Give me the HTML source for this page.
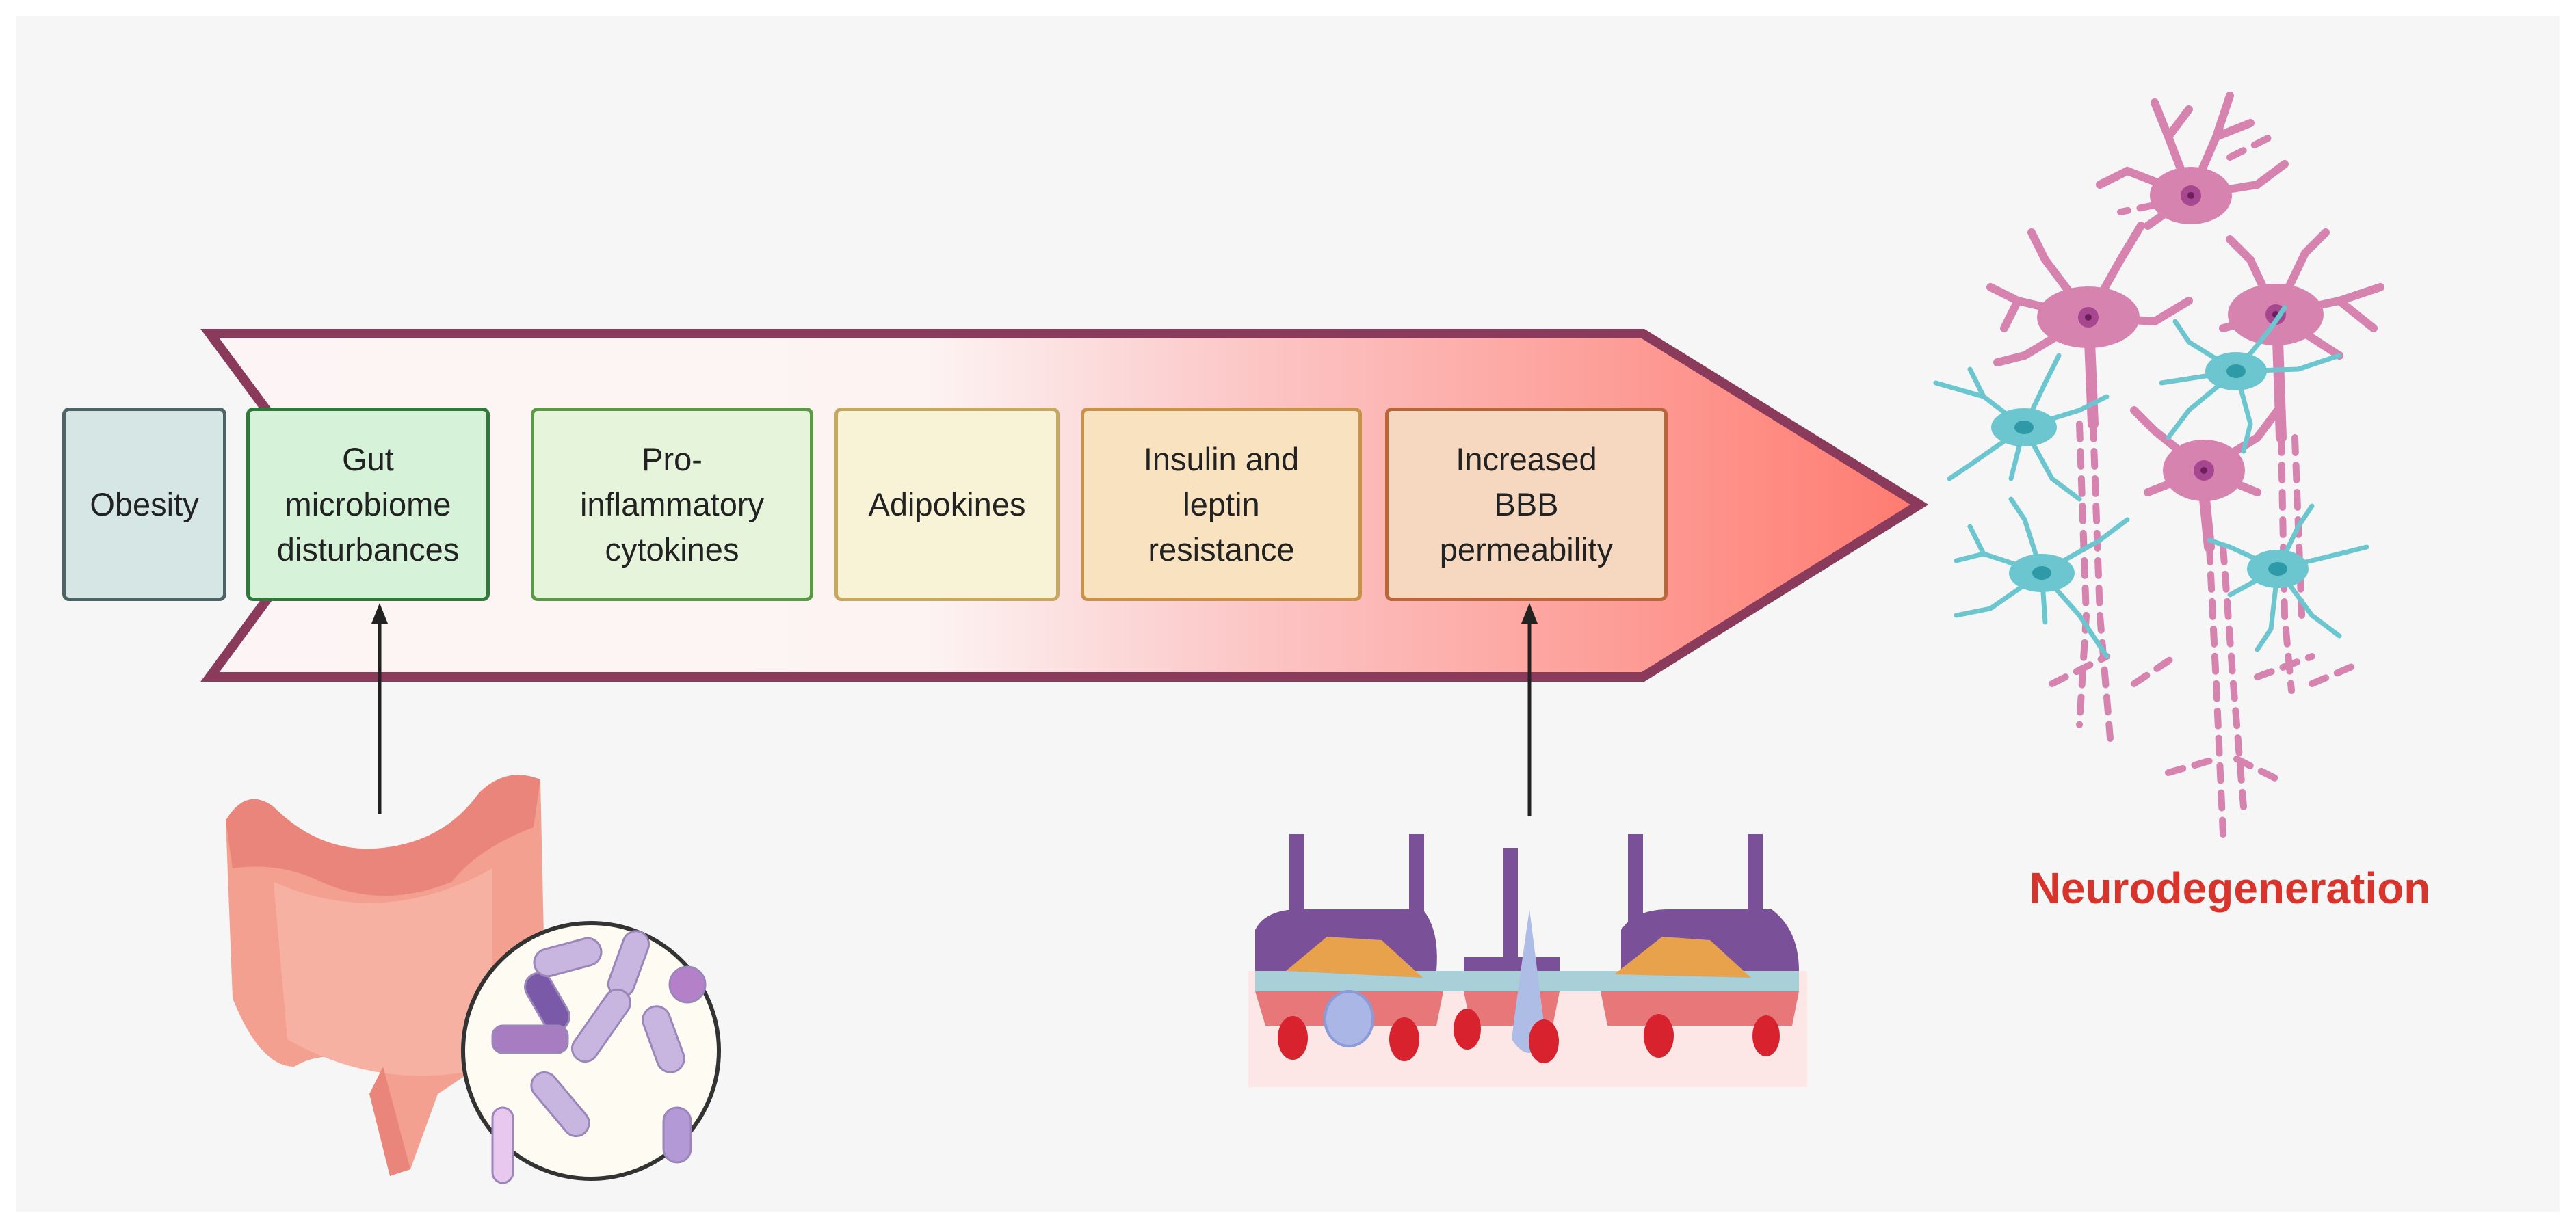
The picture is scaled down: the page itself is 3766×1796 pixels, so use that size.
<!DOCTYPE html>
<html><head><meta charset="utf-8"><style>
html,body{margin:0;padding:0;background:#fff;}
body{width:3766px;height:1796px;position:relative;overflow:hidden;font-family:"Liberation Sans",sans-serif;}
.box{position:absolute;top:596px;height:283px;border:5px solid;border-radius:10px;box-sizing:border-box;display:flex;align-items:center;justify-content:center;text-align:center;font-size:47px;line-height:66px;color:#222;}
</style></head><body>
<div style="position:absolute;left:24px;top:24px;width:3718px;height:1748px;background:#f6f6f6;"></div>
<svg width="3766" height="1796" style="position:absolute;left:0;top:0">
<defs>
<linearGradient id="g" x1="307" y1="0" x2="2806" y2="0" gradientUnits="userSpaceOnUse">
<stop offset="0" stop-color="#fdf5f5"/><stop offset="0.42" stop-color="#fdf3f3"/><stop offset="0.6" stop-color="#fcc8c8"/><stop offset="1" stop-color="#fe7b70"/>
</linearGradient>
</defs>
<polygon points="307,488 2402,488 2806,738 2402,990 307,990 492,738" fill="url(#g)" stroke="#8a3b5c" stroke-width="14" stroke-linejoin="miter"/>
<line x1="555" y1="1190" x2="555" y2="900" stroke="#222" stroke-width="5"/>
<polygon points="555,882 543,912 567,912" fill="#222"/>
<line x1="2236" y1="1194" x2="2236" y2="900" stroke="#222" stroke-width="5"/>
<polygon points="2236,882 2224,912 2248,912" fill="#222"/>
<!-- gut -->
<g>
<path d="M330,1200 Q360,1150 400,1180 Q470,1250 560,1240 Q650,1230 700,1160 Q740,1120 790,1140 L800,1600 Q760,1640 700,1560 L640,1600 L600,1710 Q580,1720 570,1680 L560,1560 Q480,1530 430,1560 Q380,1560 340,1460 Z" fill="#f3a090"/>
<path d="M400,1290 Q560,1360 720,1270 L720,1560 Q560,1600 420,1520 Z" fill="#f7b1a2"/>
<path d="M330,1200 Q360,1150 400,1180 Q470,1250 560,1240 Q650,1230 700,1160 Q740,1120 790,1140 L780,1210 Q700,1240 660,1290 Q560,1330 470,1290 Q410,1260 340,1270 Z" fill="#e9857a"/>
<path d="M560,1560 L600,1710 L570,1720 L540,1600 Z" fill="#e9857a"/>
<circle cx="864" cy="1537" r="187" fill="#fdfbf2" stroke="#333" stroke-width="6"/>
<g fill="#c9b6e0" stroke="#9a86b8" stroke-width="3">
<rect x="780" y="1420" width="40" height="90" rx="20" fill="#7a5aa8" transform="rotate(-30 800 1465)"/>
<rect x="900" y="1360" width="38" height="100" rx="19" transform="rotate(20 919 1410)"/>
<rect x="860" y="1440" width="38" height="120" rx="19" transform="rotate(35 879 1500)"/>
<rect x="720" y="1500" width="110" height="40" rx="15" fill="#a77cc0"/>
<rect x="800" y="1560" width="38" height="110" rx="19" transform="rotate(-40 819 1615)"/>
<rect x="950" y="1470" width="40" height="100" rx="20" transform="rotate(-20 970 1520)"/>
<rect x="720" y="1620" width="30" height="110" rx="15" fill="#e8c8ee"/>
<circle cx="1005" cy="1440" r="26" fill="#b480c8"/>
<rect x="970" y="1620" width="40" height="80" rx="20" fill="#b39ad6"/>
<rect x="780" y="1380" width="100" height="40" rx="20" transform="rotate(-15 830 1400)"/>
</g>
</g>
<!-- BBB -->
<g>
<rect x="1825" y="1420" width="817" height="170" fill="#fde6e6"/>
<g fill="#7a5199">
<rect x="1885" y="1220" width="22" height="180"/><rect x="2060" y="1220" width="22" height="180"/>
<rect x="2197" y="1240" width="22" height="160"/><rect x="2380" y="1220" width="22" height="180"/><rect x="2555" y="1220" width="22" height="180"/>
<path d="M1835,1360 Q1850,1330 1900,1330 L1960,1330 L1960,1420 L1835,1420 Z"/>
<path d="M1960,1330 L2080,1330 Q2105,1360 2100,1420 L1960,1420 Z"/>
<path d="M2140,1400 L2280,1400 L2280,1430 L2140,1430 Z"/>
<path d="M2370,1360 Q2390,1330 2440,1330 L2470,1330 L2470,1420 L2370,1420 Z"/>
<path d="M2470,1330 L2590,1330 Q2630,1360 2630,1420 L2470,1420 Z"/>
</g>
<rect x="1835" y="1420" width="795" height="30" fill="#a9d0d8"/>
<path d="M1880,1420 L1940,1370 L2020,1375 L2080,1430 Z" fill="#e9a24c"/>
<path d="M2360,1425 L2430,1370 L2500,1375 L2560,1430 Z" fill="#e9a24c"/>
<g fill="#e8777a">
<path d="M1835,1450 L2110,1450 L2100,1500 L1850,1500 Z"/>
<path d="M2140,1450 L2280,1450 L2270,1500 L2150,1500 Z"/>
<path d="M2340,1450 L2630,1450 L2620,1500 L2350,1500 Z"/>
</g>
<path d="M2236,1330 Q2220,1440 2210,1520 Q2236,1560 2260,1520 Q2250,1440 2236,1330 Z" fill="#aebde6"/>
<ellipse cx="1972" cy="1490" rx="35" ry="40" fill="#aab6e6" stroke="#8b9bd8" stroke-width="4"/>
<g fill="#d8222e">
<ellipse cx="1890" cy="1518" rx="22" ry="32"/><ellipse cx="2053" cy="1520" rx="22" ry="32"/>
<ellipse cx="2145" cy="1505" rx="20" ry="30"/><ellipse cx="2257" cy="1523" rx="22" ry="32"/>
<ellipse cx="2425" cy="1515" rx="22" ry="32"/><ellipse cx="2582" cy="1515" rx="20" ry="30"/>
</g>
</g>
<!-- neurons -->
<g stroke="#d683b0" stroke-width="12" stroke-linecap="round" fill="none">
<path d="M3203,286 L3170,200 L3150,150 M3170,200 L3200,160 M3203,286 L3240,200 L3260,140 M3240,200 L3290,180 M3203,286 L3110,250 L3070,270 M3203,286 L3300,270 L3340,240 M3203,286 L3140,330"/>
<path d="M3053,464 L2950,440 L2910,420 M2950,440 L2930,480 M3053,464 L2990,380 L2970,340 M3053,464 L3100,380 L3130,330 M3053,464 L3150,470 L3200,440 M3053,464 L2960,520 L2920,530"/>
<path d="M3327,460 L3420,440 L3480,420 M3420,440 L3470,480 M3327,460 L3290,380 L3260,350 M3327,460 L3370,370 L3400,340 M3327,460 L3250,480 M3327,460 L3420,520"/>
<path d="M3222,688 L3150,630 L3120,600 M3222,688 L3300,640 L3330,600 M3222,688 L3140,720 M3222,688 L3300,720"/>
</g>
<g stroke="#d683b0" stroke-width="16" stroke-linecap="round" fill="none">
<path d="M3055,500 L3060,620"/><path d="M3330,500 L3335,640"/><path d="M3222,720 L3230,800"/>
</g>
<g stroke="#d683b0" stroke-width="10" stroke-linecap="round" fill="none" stroke-dasharray="22 18">
<path d="M3060,620 L3070,900 L3085,1080"/><path d="M3040,620 L3050,900 L3040,1060"/>
<path d="M3335,640 L3340,900 L3350,1010"/><path d="M3355,640 L3365,900"/>
<path d="M3230,800 L3240,1000 L3250,1220"/><path d="M3250,800 L3265,1000 L3280,1180"/>
<path d="M3000,1000 L3080,960 M3120,1000 L3180,960 M3300,990 L3380,960 M3380,1000 L3450,970 M3170,1130 L3240,1110 M3270,1110 L3330,1140 M3150,300 L3100,310 M3260,230 L3320,200"/>
</g>
<g fill="#d683b0">
<ellipse cx="3203" cy="286" rx="60" ry="42"/><ellipse cx="3053" cy="464" rx="75" ry="45"/>
<ellipse cx="3327" cy="460" rx="70" ry="45"/><ellipse cx="3222" cy="688" rx="60" ry="45"/>
</g>
<g fill="#a7478f"><circle cx="3203" cy="286" r="15"/><circle cx="3053" cy="464" r="15"/><circle cx="3327" cy="460" r="15"/><circle cx="3222" cy="688" r="15"/></g>
<g fill="#6b1f5c"><circle cx="3203" cy="286" r="5"/><circle cx="3053" cy="464" r="5"/><circle cx="3327" cy="460" r="5"/><circle cx="3222" cy="688" r="5"/></g>
<g stroke="#6cc6cf" stroke-width="7" stroke-linecap="round" fill="none">
<path d="M2959,625 L2900,580 L2830,560 M2900,580 L2880,540 M2959,625 L2990,560 L3010,520 M2959,625 L3040,600 L3080,580 M2959,625 L2880,680 L2850,700 M2959,625 L3000,700 L3040,730 M2959,625 L2940,700"/>
<path d="M2985,838 L2900,810 L2860,820 M2900,810 L2880,770 M2985,838 L2960,760 L2940,730 M2985,838 L3070,790 L3110,760 M2985,838 L2910,890 L2860,900 M2985,838 L3040,900 L3080,960 M2985,838 L2990,910"/>
<path d="M3269,543 L3200,500 L3180,470 M3269,543 L3320,480 L3340,450 M3269,543 L3360,540 L3420,520 M3269,543 L3200,600 L3170,640 M3269,543 L3290,620 L3280,660 M3269,543 L3160,560"/>
<path d="M3330,832 L3260,800 L3230,790 M3330,832 L3360,770 L3380,740 M3330,832 L3420,810 L3460,800 M3330,832 L3260,870 M3330,832 L3380,900 L3420,930 M3330,832 L3320,920 L3300,950"/>
</g>
<g fill="#6cc6cf"><ellipse cx="2959" cy="625" rx="48" ry="28"/><ellipse cx="2985" cy="838" rx="48" ry="28"/><ellipse cx="3269" cy="543" rx="45" ry="28"/><ellipse cx="3330" cy="832" rx="45" ry="28"/></g>
<g fill="#2e9aa8"><ellipse cx="2959" cy="625" rx="14" ry="10"/><ellipse cx="2985" cy="838" rx="14" ry="10"/><ellipse cx="3269" cy="543" rx="14" ry="10"/><ellipse cx="3330" cy="832" rx="14" ry="10"/></g>
</svg>
<div class="box" style="left:91px;width:240px;background:#d5e6e4;border-color:#4d6466;">Obesity</div>
<div class="box" style="left:360px;width:356px;background:#d6f2d8;border-color:#2f7a3a;">Gut<br>microbiome<br>disturbances</div>
<div class="box" style="left:776px;width:413px;background:#e5f4da;border-color:#5a9a46;">Pro-<br>inflammatory<br>cytokines</div>
<div class="box" style="left:1220px;width:329px;background:#f8f3d6;border-color:#c6a860;">Adipokines</div>
<div class="box" style="left:1580px;width:411px;background:#f8e2bf;border-color:#c9914a;">Insulin and<br>leptin<br>resistance</div>
<div class="box" style="left:2025px;width:413px;background:#f5d8bf;border-color:#b8663a;">Increased<br>BBB<br>permeability</div>
<div style="position:absolute;left:2920px;top:1262px;width:680px;text-align:center;font-size:64px;font-weight:bold;color:#d9342b;">Neurodegeneration</div>
</body></html>
